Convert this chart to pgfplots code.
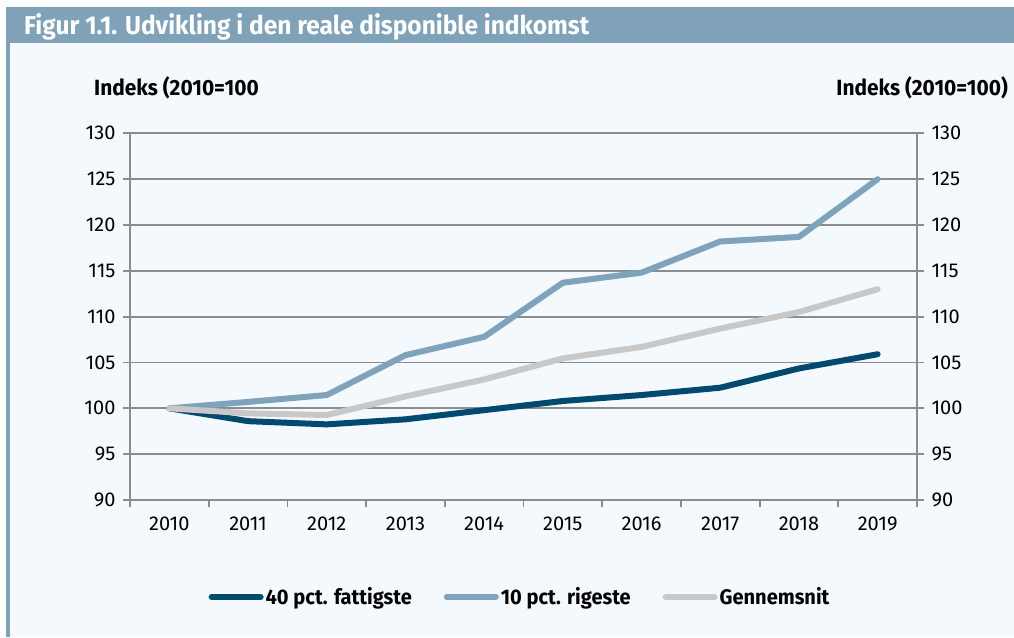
\documentclass[border=0pt]{standalone}
\usepackage{fontspec}
\setmainfont{Fira Sans}
\newfontfamily\cond[FakeStretch=0.95]{Fira Sans}
\usepackage{pgfplots}
\pgfplotsset{compat=1.18}
\definecolor{barc}{HTML}{7FA2B8}
\definecolor{bgc}{HTML}{F4F9FD}
\definecolor{navy}{HTML}{004A70}
\definecolor{steel}{HTML}{7FA3BA}
\definecolor{lgray}{HTML}{C8C8C8}
\definecolor{gridc}{HTML}{8C8C8C}

\begin{document}
\begin{tikzpicture}[x=1pt,y=1pt]
\useasboundingbox (-130,-137) rectangle (884,500);
\fill[white] (-130,-137) rectangle (884,500);
\fill[bgc] (-120,-137) rectangle (884,457);
\fill[barc] (-124,457) rectangle (884,493);
\fill[barc] (-124,-137) rectangle (-120,457);
\node[anchor=base west, text=white, inner sep=0, font=\cond\bfseries\fontsize{25.8}{26}\selectfont] at (-106,465) {Figur 1.1. Udvikling i den reale disponible indkomst};
\node[anchor=base west, inner sep=0, font=\cond\bfseries\fontsize{22}{23}\selectfont] at (-36,404.5) {Indeks (2010=100};
\node[anchor=base east, inner sep=0, font=\cond\bfseries\fontsize{22}{23}\selectfont] at (878,404.5) {Indeks (2010=100)};

\begin{axis}[
  at={(0,0)}, anchor=south west, scale only axis,
  width=787pt, height=366.7pt,
  xmin=2009.5, xmax=2019.5, ymin=90, ymax=130,
  ytick={90,95,...,130},
  xtick={2010,2011,2012,2013,2014,2015,2016,2017,2018,2019},
  xticklabels={2010,2011,2012,2013,2014,2015,2016,2017,2018,2019},
  minor xtick={2009.5,2010.5,2011.5,2012.5,2013.5,2014.5,2015.5,2016.5,2017.5,2018.5,2019.5},
  axis x line*=bottom, axis y line*=left,
  axis line style={gridc, line width=1.8pt, -},
  ymajorgrids,
  major grid style={gridc, line width=1.8pt},
  tick align=outside,
  major tick length=7pt, minor tick length=7pt,
  every tick/.style={gridc, line width=1.8pt},
  major x tick style={draw=none},
  /pgf/number format/assume math mode=true,
  ticklabel style={font=\fontsize{20}{21}\selectfont},
  yticklabel style={xshift=-4pt},
  xticklabel style={yshift=-6pt},
  legend columns=3,
  legend style={at={(0.4956,-0.2645)}, anchor=center, draw=none, fill=none,
    font=\cond\bfseries\fontsize{21.1}{22}\selectfont,
    /tikz/every even column/.append style={column sep=30pt},
    nodes={inner sep=2pt}},
  legend image code/.code={\draw[#1, line width=6pt, line cap=round] (3pt,0pt) -- (52pt,0pt);},
  line join=round,
]
\addlegendimage{navy}\addlegendentry{40 pct. fattigste}
\addlegendimage{steel}\addlegendentry{10 pct. rigeste}
\addlegendimage{lgray}\addlegendentry{Gennemsnit}
\addplot[forget plot, navy, line width=6pt, line cap=round] coordinates {
(2010,100) (2011,98.6) (2012,98.25) (2013,98.8) (2014,99.8) (2015,100.8) (2016,101.45) (2017,102.25) (2018,104.35) (2019,105.9)};
\addplot[forget plot, steel, line width=6pt, line cap=round] coordinates {
(2010,100) (2011,100.7) (2012,101.45) (2013,105.8) (2014,107.8) (2015,113.7) (2016,114.8) (2017,118.2) (2018,118.7) (2019,125.0)};
\addplot[forget plot, lgray, line width=6pt, line cap=round] coordinates {
(2010,100) (2011,99.45) (2012,99.27) (2013,101.3) (2014,103.15) (2015,105.45) (2016,106.7) (2017,108.7) (2018,110.5) (2019,113.0)};
\end{axis}

\begin{axis}[
  at={(0,0)}, anchor=south west, scale only axis,
  width=787pt, height=366.7pt,
  xmin=2009.5, xmax=2019.5, ymin=90, ymax=130,
  ytick={90,95,...,130},
  axis y line*=right, axis x line=none,
  axis line style={gridc, line width=1.8pt, -},
  tick align=outside, major tick length=7pt,
  every tick/.style={gridc, line width=1.8pt},
  /pgf/number format/assume math mode=true,
  ticklabel style={font=\fontsize{20}{21}\selectfont},
  yticklabel style={xshift=4pt},
]
\end{axis}
\end{tikzpicture}
\end{document}
